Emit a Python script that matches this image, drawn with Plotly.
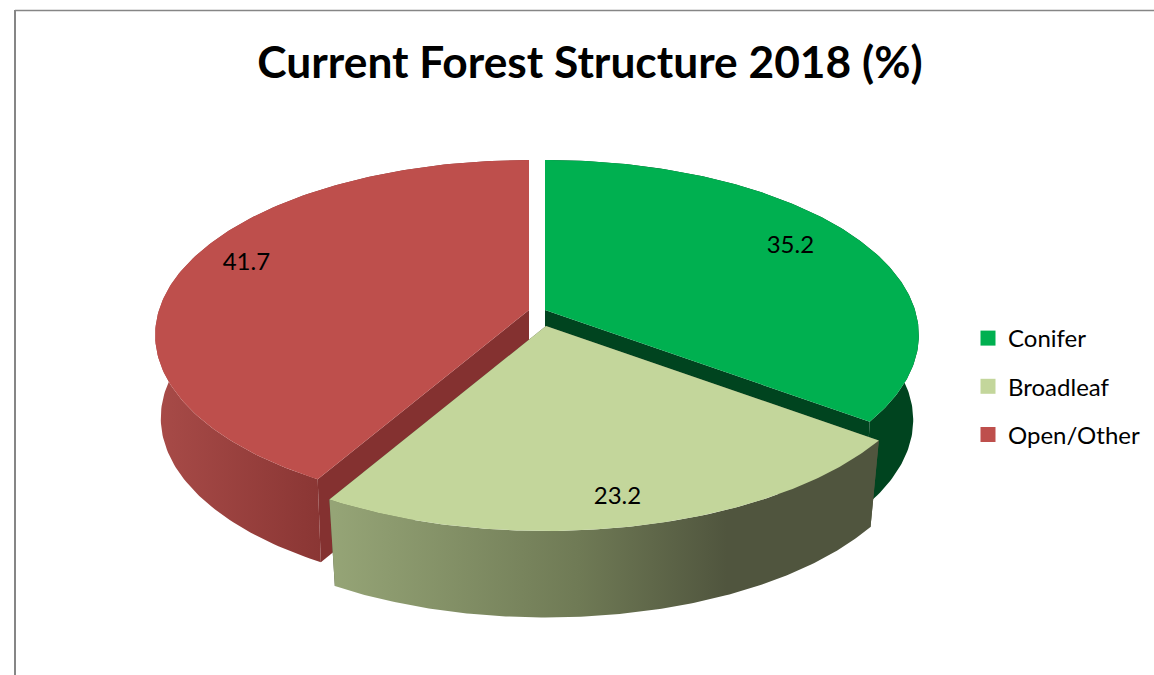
import numpy as np
import plotly.graph_objects as go

categories = ["Conifer", "Broadleaf", "Open/Other"]
shares = [35.2, 23.2, 41.7]
title_text = "Current Forest Structure 2018 (%)"

W, H = 1154, 675
TOP = ["#00B050", "#C3D69B", "#BE4F4C"]
INNER = ["#00441F", "#50553E", "#843130"]
WALL_STOPS = [
    [[0, "#00441F"], [1, "#00441F"]],
    [[0, "#95A476"], [0.45, "#6F7A55"], [0.72, "#50553E"], [1, "#50553E"]],
    [[0, "#A84B48"], [1, "#8A3634"]],
]
APEX = [(545, 310), (546, 326), (529, 310)]
SCALE = [1.0, 1.025, 1.0]
LABEL_R = [0.79, 0.80, 0.82]
LABEL_DY = [-6, 12, -11]
RX, RY, K = 370.0, 171.4, 1 / 7
DEPTH = [85.0, 86.5, 83.0]
SHRINK = [0.985, 0.975, 0.985]
FONT = "Lato"


def project(t, apex, s=1.0, r=1.0, sx=1.0, dy=0.0):
    u, v = np.sin(t), np.cos(t)
    w = 1 + K * v
    return apex[0] + s * sx * r * RX * u / w, apex[1] - s * r * RY * v / w + dy


fig = go.Figure()
ends = np.cumsum(shares) / sum(shares) * 2 * np.pi
starts = np.concatenate([[0], ends[:-1]])


def poly(x, y, **kw):
    fig.add_trace(go.Scatter(x=list(x), y=list(y), mode="lines", fill="toself",
                             line=dict(width=0), showlegend=False, hoverinfo="skip", **kw))


for i in [2, 0, 1]:
    a0, a1 = starts[i], ends[i]
    t = np.linspace(a0, a1, 160)
    apex, s = APEX[i], SCALE[i]
    tx, ty = project(t, apex, s)
    bx, by = project(t, apex, s, sx=SHRINK[i], dy=DEPTH[i])
    for a in (a0, a1):
        ex, ey = project(a, apex, s)
        fx, fy = project(a, apex, s, sx=SHRINK[i], dy=DEPTH[i])
        poly([apex[0], ex, fx, apex[0]], [apex[1], ey, fy, apex[1] + DEPTH[i]], fillcolor=INNER[i])
    xs = np.concatenate([tx, bx[::-1]])
    ys = np.concatenate([ty, by[::-1]])
    poly(xs, ys, fillgradient=dict(type="horizontal", colorscale=WALL_STOPS[i],
                                   start=float(min(tx.min(), bx.min())) if i != 1 else float(bx[-1]),
                                   stop=float(max(tx.max(), bx.max())) if i != 2 else float(bx[0])))
    poly(np.concatenate([[apex[0]], tx, [apex[0]]]),
         np.concatenate([[apex[1]], ty, [apex[1]]]), fillcolor=TOP[i])

mids = (starts + ends) / 2
for i, name in enumerate(categories):
    lx, ly = project(mids[i], APEX[i], SCALE[i], r=LABEL_R[i], dy=LABEL_DY[i])
    fig.add_trace(go.Scatter(x=[lx], y=[ly], mode="text", text=[f"{shares[i]:.1f}"],
                             textposition="middle center", showlegend=False, hoverinfo="skip",
                             textfont=dict(family=FONT, size=24, color="#000000")))

for i, name in enumerate(categories):
    fig.add_trace(go.Scatter(x=[None], y=[None], mode="markers", name=name, legendgroup=name,
                             marker=dict(symbol="square", size=15, color=TOP[i])))

fig.update_layout(
    width=W, height=H, autosize=False,
    margin=dict(l=0, r=0, t=0, b=0),
    paper_bgcolor="#FFFFFF", plot_bgcolor="#FFFFFF",
    xaxis=dict(range=[0, W], visible=False, fixedrange=True),
    yaxis=dict(range=[H, 0], visible=False, fixedrange=True),
    title=dict(text=f"<b>{title_text}</b>", x=590 / W, xanchor="center", y=1 - 62 / H, yanchor="middle",
               font=dict(family=FONT, size=44.3, color="#000000")),
    legend=dict(x=968 / W, y=1 - 316 / H, xanchor="left", yanchor="top", tracegroupgap=14,
                font=dict(family=FONT, size=24, color="#000000"), itemsizing="trace",
                bgcolor="rgba(0,0,0,0)"),
    shapes=[
        dict(type="line", xref="paper", yref="paper", x0=15 / W, x1=1, y0=1 - 10.5 / H, y1=1 - 10.5 / H,
             line=dict(color="#868686", width=1.5)),
        dict(type="line", xref="paper", yref="paper", x0=15 / W, x1=15 / W, y0=1 - 10 / H, y1=0,
             line=dict(color="#868686", width=2)),
    ],
)
fig.write_html("out.html", config={"displayModeBar": False},
               post_script="document.body.style.margin='0';document.documentElement.style.overflow='hidden';")
